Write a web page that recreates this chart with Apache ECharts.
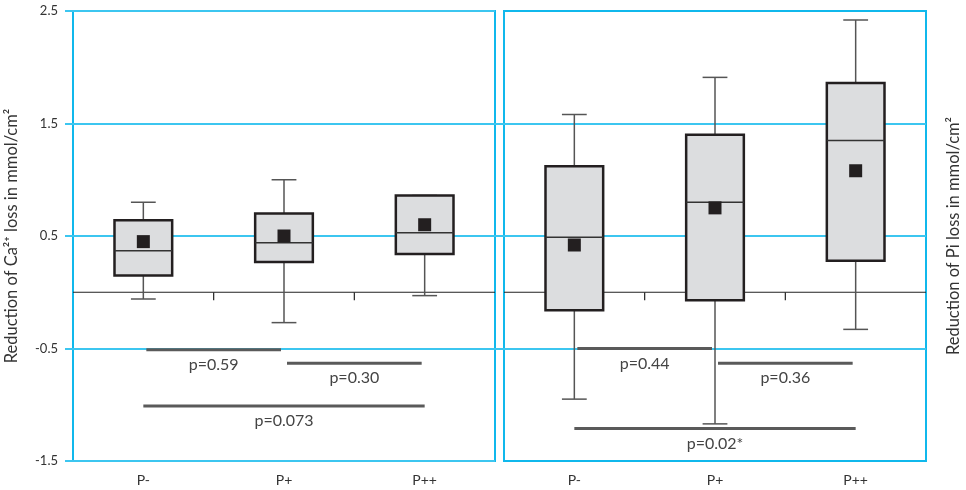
<!DOCTYPE html>
<html>
<head>
<meta charset="utf-8">
<script src="https://cdn.jsdelivr.net/npm/echarts@6/dist/echarts.min.js"></script>
<style>
  html, body { margin: 0; padding: 0; background: #fff; }
  #chart { width: 966px; height: 490px; }
</style>
</head>
<body>
<div id="chart"></div>
<script>
const categories = ['P-', 'P+', 'P++'];
const yTicks = [-1.5, -0.5, 0.5, 1.5, 2.5];
const innerTicks = [-0.5, 0.5, 1.5];

// Ca: [category, min, q1, median, q3, max]
const caBoxes = [
  [0, -0.06, 0.15, 0.37, 0.64, 0.80],
  [1, -0.27, 0.27, 0.44, 0.70, 1.00],
  [2, -0.03, 0.34, 0.53, 0.86, 0.86]
];
const caMeans = [0.45, 0.50, 0.60];

// Pi: [category, min, q1, median, q3, max]
const piBoxes = [
  [0, -0.95, -0.16, 0.49, 1.12, 1.58],
  [1, -1.17, -0.07, 0.80, 1.40, 1.91],
  [2, -0.33, 0.28, 1.35, 1.86, 2.42]
];
const piMeans = [0.42, 0.75, 1.08];

// tests: [from, to, y, label]
const caTests = [
  [0, 1, -0.51, 'p=0.59'],
  [1, 2, -0.63, 'p=0.30'],
  [0, 2, -1.01, 'p=0.073']
];
const piTests = [
  [0, 1, -0.50, 'p=0.44'],
  [1, 2, -0.63, 'p=0.36'],
  [0, 2, -1.21, 'p=0.02*']
];

const CYAN = '#10b8ec';
const GRID_CYAN = '#3cc6f0';
const FONT = 'Lato';

// box + whiskers
function renderBox(params, api) {
  const x = api.value(0);
  const lo = api.coord([x, api.value(1)]);
  const q1 = api.coord([x, api.value(2)]);
  const med = api.coord([x, api.value(3)]);
  const q3 = api.coord([x, api.value(4)]);
  const hi = api.coord([x, api.value(5)]);
  const bw = api.size([1, 0])[0] * 0.41;
  const cw = bw * 0.43;
  const cx = q1[0];
  const wStyle = { stroke: '#555', lineWidth: 1.5 };
  return {
    type: 'group',
    children: [
      { type: 'line', shape: { x1: cx, y1: hi[1], x2: cx, y2: q3[1] }, style: wStyle },
      { type: 'line', shape: { x1: cx, y1: q1[1], x2: cx, y2: lo[1] }, style: wStyle },
      { type: 'line', shape: { x1: cx - cw / 2, y1: hi[1], x2: cx + cw / 2, y2: hi[1] }, style: wStyle },
      { type: 'line', shape: { x1: cx - cw / 2, y1: lo[1], x2: cx + cw / 2, y2: lo[1] }, style: wStyle },
      {
        type: 'rect',
        shape: { x: cx - bw / 2, y: q3[1], width: bw, height: q1[1] - q3[1] },
        style: { fill: '#dcdddf', stroke: '#231f20', lineWidth: 2.5 }
      },
      { type: 'line', shape: { x1: cx - bw / 2, y1: med[1], x2: cx + bw / 2, y2: med[1] }, style: { stroke: '#333', lineWidth: 1.5 } }
    ]
  };
}

// zero line with ticks between categories
function renderZero(params, api) {
  const p = api.coord([api.value(0), 0]);
  const half = api.size([1, 0])[0] / 2;
  const st = { stroke: '#222', lineWidth: 1.2 };
  const children = [
    { type: 'line', shape: { x1: p[0] - half, y1: p[1], x2: p[0] + half, y2: p[1] }, style: st }
  ];
  if (params.dataIndex < categories.length - 1) {
    children.push({ type: 'line', shape: { x1: p[0] + half, y1: p[1], x2: p[0] + half, y2: p[1] + 8 }, style: st });
  }
  return { type: 'group', children: children };
}

function makeTestRender(tests) {
  return function (params, api) {
    const y = api.value(2);
    const a = api.coord([api.value(0), y]);
    const b = api.coord([api.value(1), y]);
    const inset = api.value(1) - api.value(0) === 1 ? 3 : 0;
    return {
      type: 'group',
      children: [
        { type: 'line', shape: { x1: a[0] + inset, y1: a[1], x2: b[0] - inset, y2: b[1] }, style: { stroke: '#5a5a5a', lineWidth: 3 } },
        {
          type: 'text', x: (a[0] + b[0]) / 2, y: a[1] + 15,
          style: { text: tests[params.dataIndex][3], fill: '#444', font: '16px ' + FONT, align: 'center', verticalAlign: 'middle' }
        }
      ]
    };
  };
}

function xAxisFor(idx) {
  return {
    type: 'category', gridIndex: idx, data: categories,
    axisLine: { show: false },
    axisTick: { show: false },
    axisLabel: { margin: 12, fontSize: 14, color: '#333', fontFamily: FONT },
    splitLine: { show: false }
  };
}

let chartDiv = document.getElementById('chart');
let myChart = echarts.init(chartDiv, null, { renderer: 'canvas' });

let option = {
  animation: false,
  grid: [
    { left: 73, top: 11, width: 422, height: 450, show: true, borderColor: CYAN, borderWidth: 2, outerBoundsMode: 'none' },
    { left: 504, top: 11, width: 422, height: 450, show: true, borderColor: CYAN, borderWidth: 2, outerBoundsMode: 'none' }
  ],
  xAxis: [xAxisFor(0), xAxisFor(1)],
  yAxis: [
    {
      type: 'value', gridIndex: 0, min: -1.5, max: 2.5,
      name: 'Reduction of Ca²⁺ loss in mmol/cm²', nameLocation: 'middle', nameGap: 53, nameRotate: 90,
      nameTextStyle: { fontSize: 16.5, color: '#333', fontFamily: FONT },
      axisLine: { show: false },
      axisTick: { show: true, length: 8, customValues: yTicks, lineStyle: { color: GRID_CYAN, width: 2 } },
      axisLabel: { customValues: yTicks, margin: 15, fontSize: 13, color: '#333', fontFamily: FONT, formatter: v => v.toFixed(1) },
      splitLine: { show: true, lineStyle: { color: GRID_CYAN, width: 2 } }
    },
    {
      type: 'value', gridIndex: 1, min: -1.5, max: 2.5,
      axisLine: { show: false },
      axisTick: { show: true, length: 9, customValues: innerTicks, lineStyle: { color: GRID_CYAN, width: 2 } },
      axisLabel: { show: false, customValues: innerTicks },
      splitLine: { show: true, lineStyle: { color: GRID_CYAN, width: 2 } }
    },
    {
      type: 'value', gridIndex: 1, min: -1.5, max: 2.5, position: 'right',
      name: 'Reduction of Pi loss in mmol/cm²', nameLocation: 'middle', nameGap: 19, nameRotate: 90,
      nameTextStyle: { fontSize: 16.5, color: '#333', fontFamily: FONT },
      axisLine: { show: false }, axisTick: { show: false }, axisLabel: { show: false }, splitLine: { show: false }
    }
  ],
  series: [
    { type: 'custom', xAxisIndex: 0, yAxisIndex: 0, renderItem: renderZero, encode: { x: 0 }, data: categories.map((c, i) => [i]) },
    { type: 'custom', xAxisIndex: 0, yAxisIndex: 0, renderItem: renderBox, encode: { x: 0, y: [1, 2, 3, 4, 5] }, data: caBoxes },
    { type: 'scatter', xAxisIndex: 0, yAxisIndex: 0, symbol: 'rect', symbolSize: 13, itemStyle: { color: '#231f20', opacity: 1 }, data: caMeans.map((v, i) => [i, v]) },
    { type: 'custom', xAxisIndex: 0, yAxisIndex: 0, renderItem: makeTestRender(caTests), encode: { x: [0, 1], y: 2 }, data: caTests.map(t => [t[0], t[1], t[2]]) },
    { type: 'custom', xAxisIndex: 1, yAxisIndex: 1, renderItem: renderZero, encode: { x: 0 }, data: categories.map((c, i) => [i]) },
    { type: 'custom', xAxisIndex: 1, yAxisIndex: 1, renderItem: renderBox, encode: { x: 0, y: [1, 2, 3, 4, 5] }, data: piBoxes },
    { type: 'scatter', xAxisIndex: 1, yAxisIndex: 1, symbol: 'rect', symbolSize: 13, itemStyle: { color: '#231f20', opacity: 1 }, data: piMeans.map((v, i) => [i, v]) },
    { type: 'custom', xAxisIndex: 1, yAxisIndex: 1, renderItem: makeTestRender(piTests), encode: { x: [0, 1], y: 2 }, data: piTests.map(t => [t[0], t[1], t[2]]) }
  ]
};

if (option && typeof option === 'object') {
  myChart.setOption(option);
}
</script>
</body>
</html>
